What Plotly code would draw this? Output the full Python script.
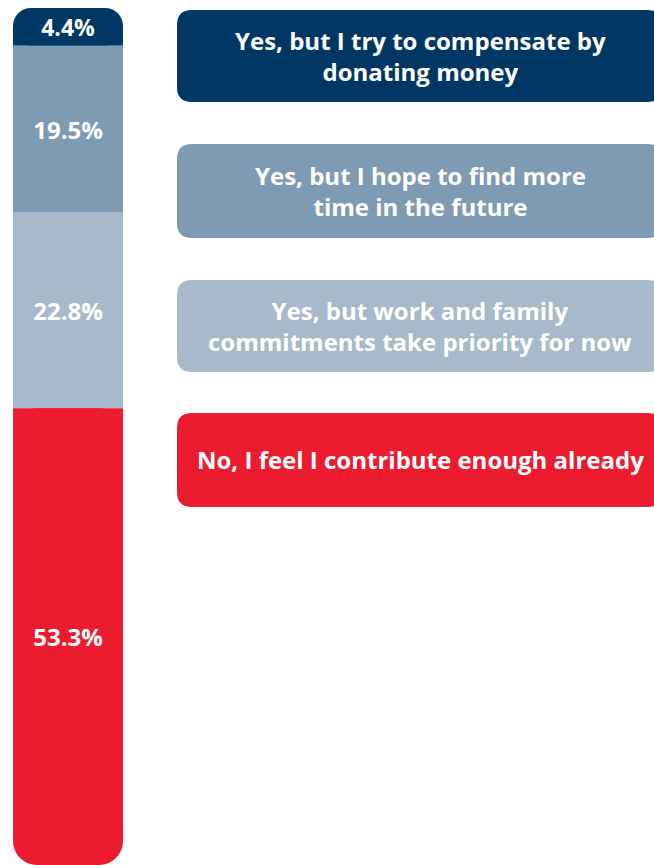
import plotly.graph_objects as go

# Survey responses, top of the stack first
answers = [
    "Yes, but I try to compensate by<br>donating money",
    "Yes, but I hope to find more<br>time in the future",
    "Yes, but work and family<br>commitments take priority for now",
    "No, I feel I contribute enough already",
]
shares = [4.4, 19.5, 22.8, 53.3]
colors = ["#003764", "#7f9bb3", "#a7b9ca", "#ed1b2f"]

W, H = 654, 865
FONT = "Open Sans"
BAR_X = 68          # bar centre, in the pixel-like x units of the axis
BAR_W = 110
Y_TOP_PX = 8        # pixel row where 0 % sits
RADIUS = 24

fig = go.Figure()

starts = []
acc = 0.0
for s in shares:
    starts.append(acc)
    acc += s

n = len(shares)
for i, (s, b, c) in enumerate(zip(shares, starts, colors)):
    rounded = i in (0, n - 1)
    if rounded:
        # square filler under the inner half so only the outer end looks rounded
        if i == 0:
            fb, fv = b + s / 2, s / 2
        else:
            fb, fv = b, s / 2
        fig.add_trace(go.Bar(
            x=[BAR_X], y=[fv], base=[fb], width=[BAR_W],
            marker=dict(color=c, cornerradius=0, line=dict(width=0)),
            hoverinfo="skip", showlegend=False,
        ))
    fig.add_trace(go.Bar(
        x=[BAR_X], y=[s], base=[b], width=[BAR_W],
        marker=dict(color=c, cornerradius=RADIUS if rounded else 0,
                    line=dict(width=0)),
        text=[f"{s:.1f}%"], textposition="inside", insidetextanchor="middle",
        textfont=dict(family=FONT, size=24, color="white", weight="bold"),
        constraintext="none", textangle=0,
        hoverinfo="skip", showlegend=False,
    ))

# Answer boxes to the right of the bar (pixel positions)
box_rows = [(10, 102), (144, 238), (280, 372), (413, 507)]
bx0, bx1, r = 177, 662, 15


def rounded_rect(x0, y0, x1, y1, r):
    fx = lambda px: px / W
    fy = lambda py: 1 - py / H
    return (
        f"M {fx(x0 + r)} {fy(y0)} L {fx(x1 - r)} {fy(y0)} "
        f"Q {fx(x1)} {fy(y0)} {fx(x1)} {fy(y0 + r)} "
        f"L {fx(x1)} {fy(y1 - r)} Q {fx(x1)} {fy(y1)} {fx(x1 - r)} {fy(y1)} "
        f"L {fx(x0 + r)} {fy(y1)} Q {fx(x0)} {fy(y1)} {fx(x0)} {fy(y1 - r)} "
        f"L {fx(x0)} {fy(y0 + r)} Q {fx(x0)} {fy(y0)} {fx(x0 + r)} {fy(y0)} Z"
    )


shapes, annotations = [], []
for text, c, (y0, y1) in zip(answers, colors, box_rows):
    shapes.append(dict(type="path", xref="paper", yref="paper",
                       path=rounded_rect(bx0, y0, bx1, y1, r),
                       fillcolor=c, line=dict(width=0), layer="below"))
    annotations.append(dict(
        x=420 / W, y=1 - (y0 + y1) / 2 / H, xref="paper", yref="paper",
        text=text, showarrow=False, xanchor="center", yanchor="middle",
        align="center",
        font=dict(family=FONT, size=24, color="white", weight="bold"),
    ))

y_bottom = 100.0
y_top = -Y_TOP_PX / (H - Y_TOP_PX) * 100.0

fig.update_layout(
    width=W, height=H,
    margin=dict(l=0, r=0, t=0, b=0),
    paper_bgcolor="white", plot_bgcolor="white",
    barmode="overlay",
    xaxis=dict(range=[0, W], visible=False, fixedrange=True),
    yaxis=dict(range=[y_bottom, y_top], visible=False, fixedrange=True),
    shapes=shapes, annotations=annotations,
)

fig.write_html("out.html")
